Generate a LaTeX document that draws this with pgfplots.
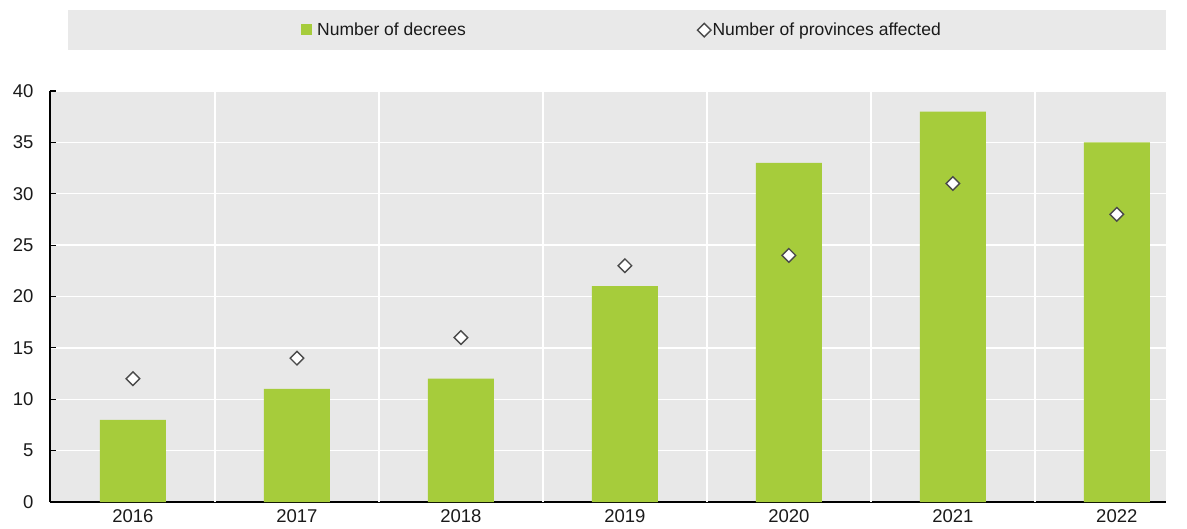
\documentclass[border=0pt]{standalone}
\usepackage{fontspec}
\setmainfont{Liberation Sans}
\usepackage{pgfplots}
\pgfplotsset{compat=1.18}
\definecolor{barc}{HTML}{A6CC3B}
\definecolor{bgc}{HTML}{E8E8E8}
\definecolor{legbg}{HTML}{E9E9E9}
\definecolor{mk}{HTML}{4A4A4A}
\definecolor{txt}{HTML}{1A1A1A}
\begin{document}
\begin{tikzpicture}[x=1pt,y=1pt]
\useasboundingbox (0,0) rectangle (1187,528);
\begin{axis}[
  at={(50pt,26pt)}, anchor=south west,
  scale only axis, width=1116pt, height=411pt,
  xmin=-0.506, xmax=6.30, ymin=0, ymax=40,
  axis x line*=bottom, axis y line*=left,
  axis line style={black, line width=1.4pt},
  axis background/.style={fill=bgc},
  xtick={0,1,2,3,4,5,6},
  xticklabels={2016,2017,2018,2019,2020,2021,2022},
  major x tick style={draw=none},
  extra x ticks={0.5,1.5,2.5,3.5,4.5,5.5},
  extra x tick labels={},
  extra x tick style={grid=major, major grid style={white, line width=1.5pt}, tick style={black, line width=1.2pt}, major tick length=6pt},
  ytick={0,5,...,40},
  ymajorgrids, major grid style={white, line width=1.5pt},
  y tick style={black, line width=1.2pt}, major tick length=6pt,
  tick align=inside,
  every tick label/.append style={font=\fontsize{18.5}{20}\selectfont, text=txt},
  /pgf/number format/assume math mode=true,
  yticklabel style={xshift=-13pt},
  xticklabel style={yshift=-4pt},
  legend columns=2,
  legend style={at={(0.5085,1.148)}, anchor=center, fill=legbg, draw=none,
    minimum width=1098pt, minimum height=40pt,
    font=\fontsize{17.5}{19}\selectfont, text=txt,
    nodes={inner sep=1.5pt, minimum width=0pt, minimum height=0pt},
    /tikz/every even column/.append style={column sep=230pt}},
]
\addplot[ybar, bar width=66pt, fill=barc, draw=none,
  legend image code/.code={\path (-8pt,0pt); \fill[barc] (0pt,-5pt) rectangle (11pt,6pt); \path (15pt,0pt);}]
  coordinates {(0,8) (1,11) (2,12) (3,21) (4,33) (5,38) (6,35)};
\addlegendentry{Number of decrees}
\addplot[only marks, mark=square*, mark size=4.8pt,
  mark options={rotate=45, fill=white, draw=mk, line width=1.4pt}]
  coordinates {(0,12) (1,14) (2,16) (3,23) (4,24) (5,31) (6,28)};
\addlegendentry{Number of provinces affected}
\end{axis}
\end{tikzpicture}
\end{document}
